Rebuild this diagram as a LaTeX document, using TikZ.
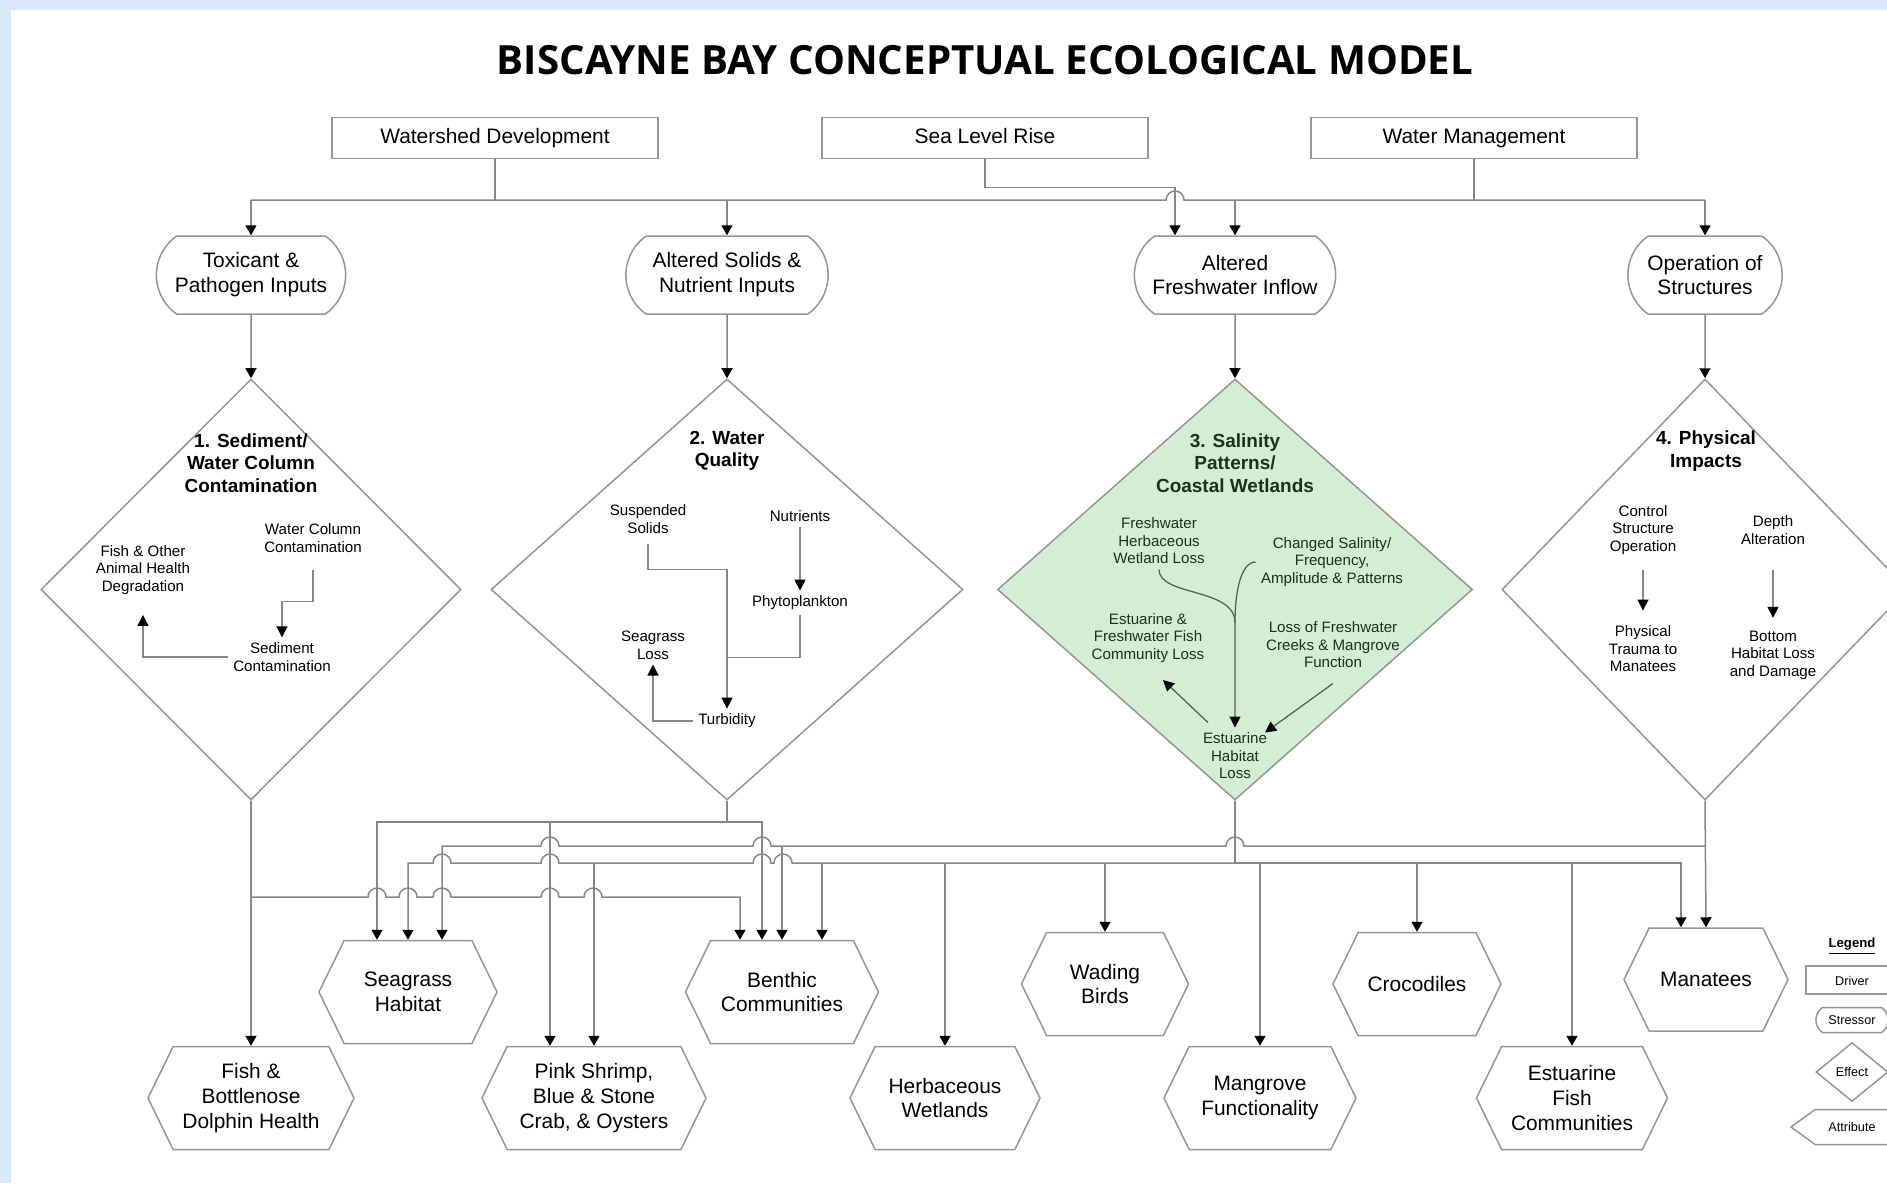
\documentclass[tikz,border=0pt]{standalone}
\usepackage{fontspec}
\setmainfont{Liberation Sans}
\newfontfamily\titlefont{Open Sans}
\usetikzlibrary{shapes.geometric,shapes.misc,shapes.symbols,arrows.meta,calc}
\definecolor{linegray}{RGB}{135,135,135}
\definecolor{framegray}{RGB}{150,150,150}
\definecolor{bgblue}{RGB}{219,234,251}
\definecolor{saltgreen}{RGB}{212,238,212}
\definecolor{darkgreen}{RGB}{28,48,28}
\definecolor{greenline}{RGB}{75,100,75}
\tikzset{driver/.style={rectangle,draw=framegray,line width=.3mm,minimum height=8.2mm,minimum width=65.2mm,text height=.72em,text depth=.1em,font=\fontsize{11.9}{14.2}\selectfont},
  stressor/.style={rounded rectangle,rounded rectangle arc length=110,draw=framegray,line width=.3mm,minimum height=15.6mm,align=center,font=\fontsize{11.9}{14.2}\selectfont},
  effect/.style={diamond,draw=framegray,line width=.3mm,minimum height=84.2mm,inner sep=0pt},
  attr/.style={signal,signal to=west and east,signal pointer angle=128,draw=framegray,line width=.3mm,minimum height=20.6mm,align=center,font=\fontsize{11.9}{14.2}\selectfont}}
\tikzset{efftitle/.style={align=center,font=\bfseries\fontsize{10.8}{12.8}\selectfont,inner sep=1mm},
  lbl/.style={align=center,font=\fontsize{8.6}{10}\selectfont,inner sep=1mm},
  legtext/.style={font=\fontsize{7.2}{8.6}\selectfont},
  link/.style={draw=linegray,line width=.3mm},
  arr/.style={link,-{Triangle[width=2.2mm,length=2mm,color=black]}},
  inlink/.style={draw=linegray,line width=.25mm},
  inarr/.style={inlink,-{Triangle[width=2.2mm,length=2.2mm,color=black]}},
  hop/.style={insert path={arc[start angle=180,end angle=0,radius=1.8mm]}},
  hopl/.style={insert path={arc[start angle=0,end angle=180,radius=1.8mm]}}}

\begin{document}
\begin{tikzpicture}[x=.2mm,y=-.2mm]
  \useasboundingbox (0,0) rectangle (1887,1183);
  \clip (0,0) rectangle (1887,1183);
  \fill[bgblue] (0,0) rectangle (1887,1183);
  \fill[white] (11,10) rectangle (1900,1200);

  \node[font=\titlefont\bfseries\fontsize{22.9}{27}\selectfont] (title) at (985,60) {BISCAYNE BAY CONCEPTUAL ECOLOGICAL MODEL};

  % drivers
  \node[driver] (wsd) at (495,138) {Watershed Development};
  \node[driver] (slr) at (985,138) {Sea Level Rise};
  \node[driver] (wm) at (1474,138) {Water Management};

  % stressors
  \node[stressor,minimum width=40.2mm] (tpi) at (251,275) {Toxicant \&\\Pathogen Inputs};
  \node[stressor,minimum width=42.8mm] (asn) at (727,275) {Altered Solids \&\\Nutrient Inputs};
  \node[stressor,minimum width=42.6mm] (afi) at (1235,275) {Altered\\Freshwater Inflow};
  \node[stressor,minimum width=33.2mm] (ops) at (1705,275) {Operation of\\Structures};

  % effects
  \node[effect,minimum width=84mm] (sed) at (251,589.5) {};
  \node[effect,minimum width=94.4mm] (wq) at (727,589.5) {};
  \node[effect,minimum width=95mm,fill=saltgreen] (sal) at (1235,589.5) {};
  \node[effect,minimum width=81.2mm] (phys) at (1705,589.5) {};

  % attributes
  \node[attr,minimum width=41.2mm] (fdh) at (251,1098) {Fish \&\\Bottlenose\\Dolphin Health};
  \node[attr,minimum width=35.6mm] (sgh) at (408,992) {Seagrass\\Habitat};
  \node[attr,minimum width=44.8mm] (psh) at (594,1098) {Pink Shrimp,\\Blue \& Stone\\Crab, \& Oysters};
  \node[attr,minimum width=38.6mm] (ben) at (782,992) {Benthic\\Communities};
  \node[attr,minimum width=38mm] (hw) at (945,1098) {Herbaceous\\Wetlands};
  \node[attr,minimum width=33.4mm] (wb) at (1105,984) {Wading\\Birds};
  \node[attr,minimum width=38.4mm] (mf) at (1260,1098) {Mangrove\\Functionality};
  \node[attr,minimum width=33.6mm] (cro) at (1417,984) {Crocodiles};
  \node[attr,minimum width=38.2mm] (estf) at (1572,1098) {Estuarine\\Fish\\Communities};
  \node[attr,minimum width=32.8mm] (man) at (1706,979.5) {Manatees};

  % 1. sediment / water column
  \node[efftitle] (sedt) at (251,463) {1. Sediment/\\Water Column\\Contamination};
  \node[lbl] (wcc) at (313,538) {Water Column\\Contamination};
  \node[lbl] (fod) at (143,570) {Fish \& Other\\Animal Health\\Degradation};
  \node[lbl] (sedc) at (282,657) {Sediment\\Contamination};
  \draw[inarr] ([yshift=-2.4mm]wcc.south) -- ++(0,32) -| (sedc.north);
  \draw[inarr] (sedc.west) -| ([yshift=-3mm]fod.south);

  % 2. water quality
  \node[efftitle] (wqt) at (727,451) {2. Water\\Quality};
  \node[lbl] (ss) at (648,519) {Suspended\\Solids};
  \node[lbl] (nut) at (800,516) {Nutrients};
  \node[lbl] (phy) at (800,603) {Phytoplankton};
  \node[lbl] (sgl) at (653,645) {Seagrass\\Loss};
  \node[lbl] (tur) at (727,721) {Turbidity};
  \draw[inlink] (phy.south) -- ++(0,42) -- ++(-73,0);
  \draw[inarr] ([yshift=-1mm]ss.south) -- ++(0,26) -| (tur.north);
  \draw[inarr] (nut) -- (phy);
  \draw[inarr] (tur.west) -| (sgl.south);

  % 3. salinity
  \node[efftitle,text=darkgreen] (salt) at (1235,463) {3. Salinity\\Patterns/\\Coastal Wetlands};
  \node[lbl,text=darkgreen] (fhw) at (1159,541) {Freshwater\\Herbaceous\\Wetland Loss};
  \node[lbl,text=darkgreen] (csf) at (1332,562) {Changed Salinity/\\Frequency,\\Amplitude \& Patterns};
  \node[lbl,text=darkgreen] (efl) at (1148,638) {Estuarine \&\\Freshwater Fish\\Community Loss};
  \node[lbl,text=darkgreen] (lfc) at (1333,645) {Loss of Freshwater\\Creeks \& Mangrove\\Function};
  \node[lbl,text=darkgreen] (ehl) at (1235,756) {Estuarine\\Habitat\\Loss};
  \draw[inlink,draw=greenline] (csf.west) .. controls +(-15,0) and +(0,-30) .. ([yshift=21mm]ehl.north);
  \draw[inarr,draw=greenline] (fhw.south) .. controls +(0,27) and +(0,-35) .. ([yshift=21mm]ehl.north) -- (ehl.north);
  \draw[inarr,draw=greenline] ([xshift=-5.4mm,yshift=1mm]ehl.north) -- ([xshift=3mm,yshift=-2.4mm]efl.south);
  \draw[inarr,draw=greenline] ([yshift=-2mm]lfc.south) -- ([xshift=6mm,yshift=-1mm]ehl.north);

  % 4. physical impacts
  \node[efftitle] (physt) at (1706,451) {4. Physical\\Impacts};
  \node[lbl] (cso) at (1643,530) {Control\\Structure\\Operation};
  \node[lbl] (dal) at (1773,530) {Depth\\Alteration};
  \node[lbl] (ptm) at (1643,649) {Physical\\Trauma to\\Manatees};
  \node[lbl] (bhl) at (1773,655) {Bottom\\Habitat Loss\\and Damage};
  \draw[inarr] ([yshift=-2mm]cso.south) -- ([yshift=2mm]ptm.north);
  \draw[inarr] ([yshift=-4mm]dal.south) -- ([yshift=1.5mm]bhl.north);

  % drivers -> stressors -> effects
  \coordinate (dbus) at (0,200);
  \draw[link] (wsd.south) -- (wsd.south |- dbus);
  \draw[link] (wm.south) -- (wm.south |- dbus);
  \draw[link] (tpi.north |- dbus) -- (1166,200) [hop] -- (ops.north |- dbus);
  \foreach \n in {tpi,asn,afi,ops} \draw[arr] (\n.north |- dbus) -- (\n.north);
  \draw[arr] (slr.south) -- ++(0,28) -| ([xshift=-12mm]afi.north);
  \foreach \n/\e in {tpi/sed,asn/wq,afi/sal,ops/phys} \draw[arr] (\n) -- (\e);

  % effects -> attributes
  \coordinate (la) at (wq.south |- 0,822);
  \coordinate (lb) at (phys.south |- 0,846);
  \coordinate (lc) at (sal.south |- 0,863);
  \coordinate (ld) at (sed.south |- 0,897);
  \draw[arr] (sed.south) -- (fdh.north);
  \draw[arr] (ld) -- (368,897) [hop] -- (399,897) [hop] -- (433,897) [hop] -- (541,897) [hop] -- (584,897) [hop] -- (740,897) -- ($(ben.north)+(-42,0)$);
  \draw[link] (wq.south) -- (la);
  \draw[arr] (la) -| ($(sgh.north)+(-31,0)$);
  \draw[arr] (la) -| ($(psh.north)+(-44,0)$);
  \draw[arr] (la) -| ($(ben.north)+(-20,0)$);
  \draw[arr] (phys.south) -- (man.north);
  \draw[arr] (lb) -- (1244,846) [hopl] -- (771,846) [hopl] -- (559,846) [hopl] -- (442,846) -- ($(sgh.north)+(34,0)$);
  \draw[arr] (lb -| ben.north) -- (ben.north);
  \draw[link] (sal.south) -- (lc);
  \draw[arr] (lc) -- (792,863) [hopl] -- (771,863) [hopl] -- (559,863) [hopl] -- (451,863) [hopl] -- (408,863) -- (sgh.north);
  \draw[arr] (lc) -| ($(man.north)+(-25,0)$);
  \draw[arr] (lc -| psh.north) -- (psh.north);
  \draw[arr] ($(lc -| ben.north)+(40,0)$) -- ($(ben.north)+(40,0)$);
  \foreach \t in {hw,wb,mf,cro,estf} \draw[arr] (lc -| \t.north) -- (\t.north);

  % legend
  \node[font=\bfseries\fontsize{7.5}{9}\selectfont] (leg) at (1852,946) {\underline{Legend}};
  \node[driver,minimum width=18.4mm,minimum height=5.6mm,legtext] (ldrv) at (1852,980) {Driver};
  \node[stressor,minimum width=16.8mm,minimum height=5mm,legtext] (lstr) at (1852,1020) {Stressor};
  \node[effect,minimum width=14.4mm,minimum height=11.8mm,legtext] (leff) at (1852,1072) {Effect};
  \node[attr,signal pointer angle=72,minimum width=24.4mm,minimum height=7mm,legtext] (latt) at (1852,1127) {Attribute};
\end{tikzpicture}
\end{document}
